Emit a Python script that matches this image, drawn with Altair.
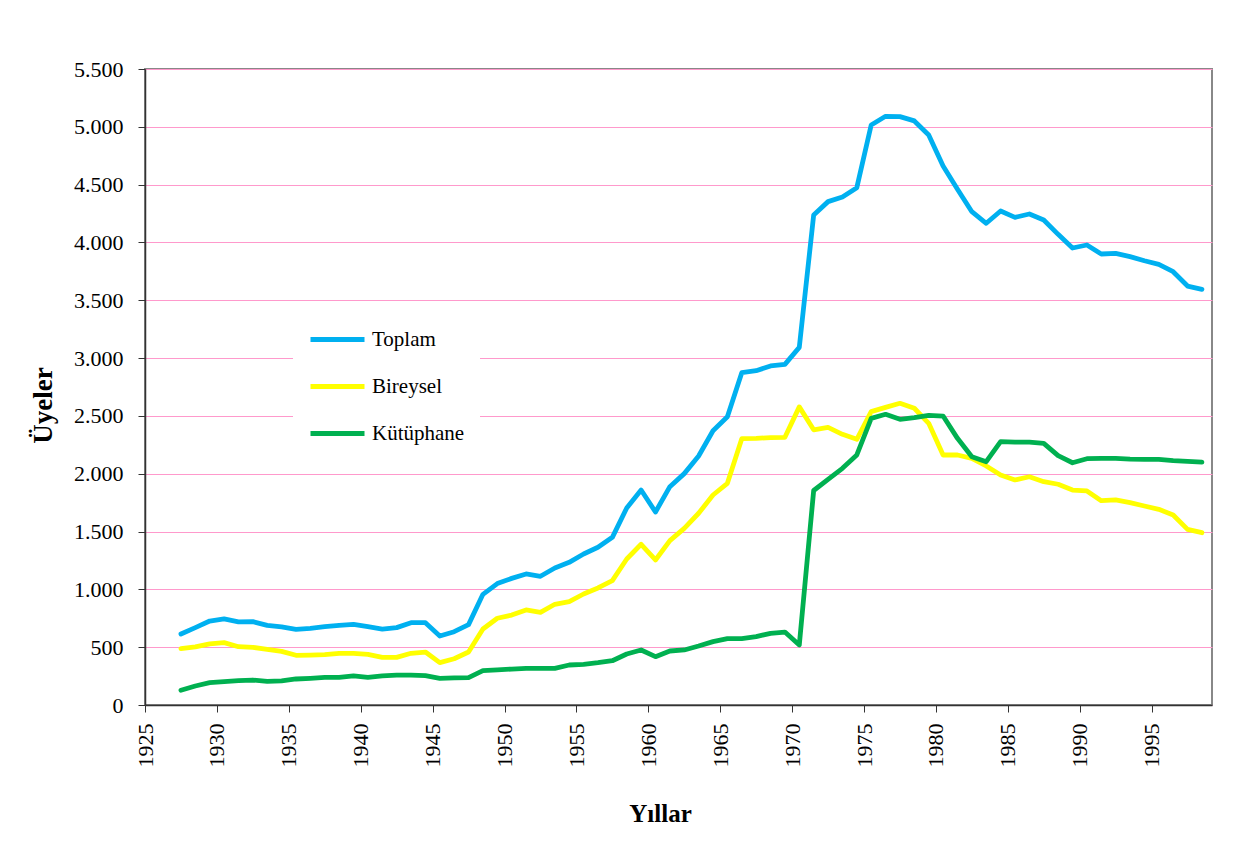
import altair as alt
import pandas as pd

years = list(range(1927, 1999))

toplam = [614, 669, 726, 744, 718, 721, 689, 675, 654, 663,
          677, 689, 698, 677, 657, 669, 712, 712, 597, 634,
          695, 957, 1050, 1095, 1133, 1113, 1185, 1234, 1306, 1364,
          1450, 1704, 1859, 1669, 1888, 2001, 2153, 2372, 2493, 2874,
          2891, 2932, 2946, 3093, 4238, 4353, 4393, 4474, 5016, 5091,
          5088, 5051, 4930, 4661, 4460, 4266, 4166, 4272, 4217, 4246,
          4194, 4070, 3952, 3978, 3900, 3906, 3877, 3842, 3811, 3747,
          3623, 3595]

bireysel = [487, 502, 528, 539, 504, 499, 482, 464, 430, 432,
            435, 447, 447, 438, 412, 412, 447, 458, 366, 400,
            458, 657, 750, 778, 822, 801, 871, 893, 960, 1012,
            1075, 1263, 1390, 1254, 1421, 1528, 1658, 1816, 1917, 2303,
            2306, 2312, 2315, 2578, 2380, 2401, 2341, 2298, 2537, 2574,
            2609, 2566, 2436, 2162, 2162, 2133, 2067, 1989, 1946, 1974,
            1931, 1909, 1859, 1851, 1767, 1773, 1750, 1721, 1692, 1643,
            1519, 1490]

kutuphane = [127, 164, 193, 202, 210, 216, 205, 208, 225, 231,
             239, 239, 251, 239, 251, 259, 259, 254, 231, 234,
             236, 297, 303, 311, 317, 317, 317, 346, 352, 366,
             383, 441, 476, 418, 467, 476, 510, 548, 574, 574,
             591, 620, 631, 519, 1855, 1952, 2047, 2162, 2479, 2514,
             2471, 2485, 2505, 2499, 2306, 2147, 2104, 2277, 2274, 2274,
             2263, 2156, 2095, 2130, 2133, 2133, 2127, 2124, 2124, 2113,
             2107, 2101]

series_names = ["Toplam", "Bireysel", "Kütüphane"]
series_colors = ["#00B0F0", "#FFFF00", "#00B050"]
x_ticks = list(range(1925, 2000, 5))
y_ticks = list(range(0, 5501, 500))

rows = []
for name, vals in zip(series_names, [toplam, bireysel, kutuphane]):
    for y, v in zip(years, vals):
        rows.append({"Yıl": y, "Seri": name, "Üye": v})
df = pd.DataFrame(rows)

FONT = "Liberation Serif"

chart = alt.Chart(df).transform_calculate(
    xpos="datum['Yıl'] + 0.5"
).mark_line(strokeWidth=4.8, strokeJoin="round", strokeCap="round").encode(
    x=alt.X("xpos:Q",
            scale=alt.Scale(domain=[1925, 1999.2], nice=False, zero=False),
            axis=alt.Axis(title="Yıllar", values=x_ticks, format="d",
                          labelAngle=270, labelFontSize=22, labelFont=FONT,
                          labelColor="black", labelPadding=11,
                          titleFont=FONT, titleFontSize=25, titleFontWeight="bold",
                          titleColor="black", titleX=515, titleY=108,
                          titleBaseline="middle", titleAnchor="middle",
                          tickColor="#333333", tickSize=7, domainColor="#333333",
                          domainWidth=1.5, grid=False)),
    y=alt.Y("Üye:Q",
            scale=alt.Scale(domain=[0, 5500], nice=False),
            axis=alt.Axis(title="Üyeler", values=y_ticks,
                          labelExpr="replace(format(datum.value, ','), ',', '.')",
                          labelFontSize=22, labelFont=FONT, labelColor="black",
                          labelPadding=15,
                          titleFont=FONT, titleFontSize=27, titleFontWeight="bold",
                          titleColor="black", titleX=-102, titleY=336,
                          titleAngle=270, titleBaseline="middle", titleAlign="center",
                          tickColor="#333333", tickSize=7, domainColor="#333333",
                          domainWidth=1.5, grid=True, gridColor="#FF99CC",
                          gridWidth=1)),
    color=alt.Color("Seri:N",
                    scale=alt.Scale(domain=series_names, range=series_colors),
                    sort=series_names,
                    legend=alt.Legend(title=None, orient="none", legendX=148,
                                      legendY=232, fillColor="white",
                                      padding=15, symbolType="stroke",
                                      symbolSize=2916, symbolStrokeWidth=5,
                                      clipHeight=47, rowPadding=0,
                                      labelFont=FONT, labelFontSize=21,
                                      labelColor="black", labelOffset=5)),
    order=alt.Order("Seri:N")
).properties(
    width=1067, height=636,
    autosize=alt.AutoSizeParams(type="none"),
    padding={"left": 137, "top": 61, "right": 25, "bottom": 125},
    background="white"
).configure_view(
    stroke="#888888", strokeWidth=2
)

chart.save("out.html", embed_options={"renderer": "svg", "actions": False})
